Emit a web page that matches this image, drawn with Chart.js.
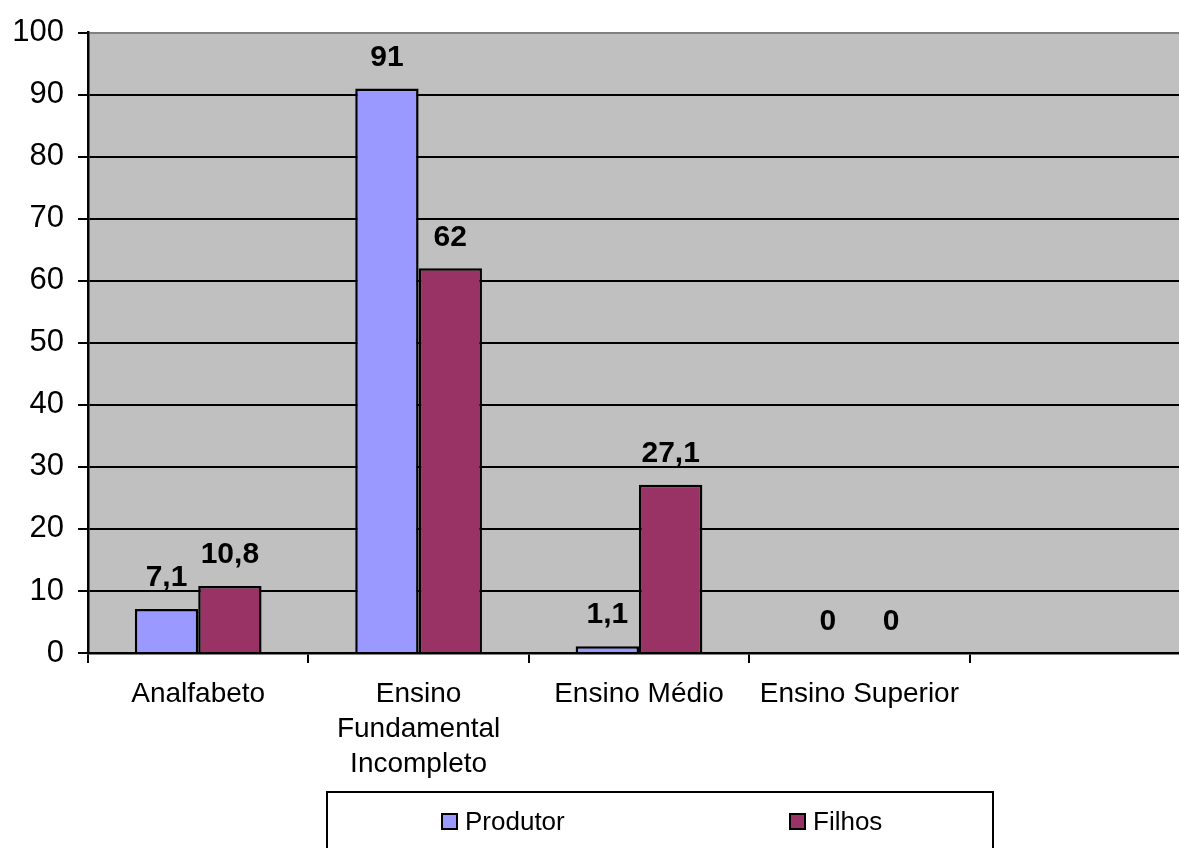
<!DOCTYPE html>
<html>
<head>
<meta charset="utf-8">
<script src="https://cdn.jsdelivr.net/npm/chart.js@4/dist/chart.umd.min.js"></script>
<style>
  html, body { margin: 0; padding: 0; background: #fff; overflow: hidden; }
  #wrap { position: relative; width: 1200px; height: 848px; }
</style>
</head>
<body>
<div id="wrap"><canvas id="escolaridade"></canvas></div>
<script>
const categories = [
  "Analfabeto",
  ["Ensino", "Fundamental", "Incompleto"],
  "Ensino Médio",
  "Ensino Superior",
  "",
]
const seriesNames = ["Produtor", "Filhos"]
const produtor = [7.1, 91, 1.1, 0, null]
const filhos = [10.8, 62, 27.1, 0, null]
const seriesColors = ["#9999FF", "#993366"]

const FONT = "'Liberation Sans', Arial, sans-serif"

// grey plot area like the old excel charts
const plotBackground = {
  id: "plotBackground",
  beforeDraw(chart) {
    const { ctx, chartArea: a } = chart
    ctx.save()
    ctx.fillStyle = "#C0C0C0"
    ctx.fillRect(a.left, a.top, a.right - a.left, a.bottom - a.top)
    ctx.restore()
  },
}

const valueLabels = {
  id: "valueLabels",
  afterDatasetsDraw(chart) {
    const { ctx } = chart
    ctx.save()
    ctx.font = "bold 30px " + FONT
    ctx.fillStyle = "#000"
    ctx.textAlign = "center"
    ctx.textBaseline = "middle"
    chart.data.datasets.forEach((ds, i) => {
      chart.getDatasetMeta(i).data.forEach((bar, j) => {
        const v = ds.data[j]
        if (v === null) return
        ctx.fillText(String(v).replace(".", ","), bar.x, bar.y - 31)
      })
    })
    ctx.restore()
  },
}

// legend in a framed box under the axis
const boxLegend = {
  id: "boxLegend",
  afterDraw(chart) {
    const { ctx, chartArea: a } = chart
    const left = a.left + 239
    const right = a.left + 905
    const top = a.bottom + 139
    ctx.save()
    ctx.fillStyle = "#fff"
    ctx.fillRect(left, top, right - left, 100)
    ctx.strokeStyle = "#000"
    ctx.lineWidth = 2
    ctx.strokeRect(left, top, right - left, 100)
    ctx.font = "26px " + FONT
    ctx.textBaseline = "middle"
    const cy = top + 30
    const starts = [left + 115, left + 463]
    chart.data.datasets.forEach((ds, i) => {
      const x = starts[i]
      ctx.fillStyle = ds.backgroundColor
      ctx.fillRect(x, cy - 8, 15, 15)
      ctx.lineWidth = 2
      ctx.strokeRect(x, cy - 8, 15, 15)
      ctx.fillStyle = "#000"
      ctx.fillText(ds.label, x + 23, cy + 1)
    })
    ctx.restore()
  },
}

new Chart(document.getElementById("escolaridade"), {
  type: "bar",
  data: {
    labels: categories,
    datasets: [
      {
        label: seriesNames[0],
        data: produtor,
        backgroundColor: seriesColors[0],
        borderColor: "#000",
        borderWidth: 2.5,
      },
      {
        label: seriesNames[1],
        data: filhos,
        backgroundColor: seriesColors[1],
        borderColor: "#000",
        borderWidth: 2.5,
      },
    ],
  },
  options: {
    responsive: true,
    maintainAspectRatio: false,
    animation: false,
    categoryPercentage: 0.575,
    barPercentage: 1.0,
    layout: { padding: { top: 29, right: 10, bottom: 0, left: 0 } },
    plugins: {
      legend: { display: false },
      tooltip: { enabled: false },
    },
    scales: {
      x: {
        grid: {
          offset: true,
          drawOnChartArea: false,
          tickLength: 10,
          color: "#000",
          lineWidth: 2,
        },
        border: { color: "#000", width: 2.5 },
        ticks: {
          color: "#000",
          font: { family: FONT, size: 28, lineHeight: 1.25 },
          padding: 14,
          maxRotation: 0,
          autoSkip: false,
        },
        afterFit(scale) {
          scale.height = 195
        },
      },
      y: {
        min: 0,
        max: 100,
        grid: {
          tickLength: 10,
          color: (c) => (c.tick && c.tick.value === 100 ? "#808080" : "#000"),
          tickColor: "#000",
          lineWidth: 2,
        },
        border: { color: "#000", width: 2.5 },
        ticks: {
          stepSize: 10,
          color: "#000",
          font: { family: FONT, size: 31 },
          padding: 14,
        },
        afterFit(scale) {
          scale.width = 88
        },
      },
    },
  },
  plugins: [plotBackground, valueLabels, boxLegend],
})
</script>
</body>
</html>
